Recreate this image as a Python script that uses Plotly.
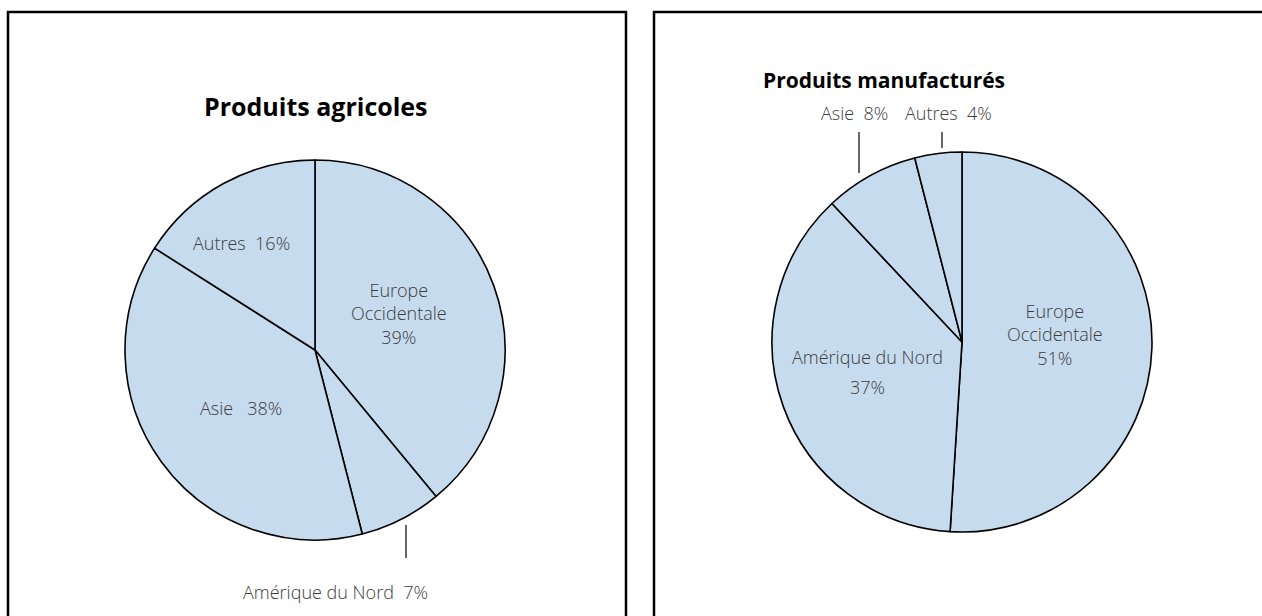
import plotly.graph_objects as go

W, H = 1262, 616

# Data
regions_agri = ["Europe Occidentale", "Amérique du Nord", "Asie", "Autres"]
values_agri = [39, 7, 38, 16]
regions_manu = ["Europe Occidentale", "Amérique du Nord", "Asie", "Autres"]
values_manu = [51, 37, 8, 4]
titles = ["Produits agricoles", "Produits manufacturés"]

FILL = "#c6dbee"
TXT = "#3c3c3c"
LFONT = "Open Sans"


def px(x):
    return x / W


def py(y):
    return 1 - y / H


fig = go.Figure()


def add_pie(labels, values, cx, cy, r):
    fig.add_trace(go.Pie(
        labels=labels, values=values, sort=False, direction="clockwise",
        rotation=0, textinfo="none", hoverinfo="label+percent",
        marker=dict(colors=[FILL] * len(values), line=dict(color="black", width=1.6)),
        domain=dict(x=[px(cx - r), px(cx + r)], y=[py(cy + r), py(cy - r)]),
        showlegend=False,
    ))


add_pie(regions_agri, values_agri, 315, 350, 190)
add_pie(regions_manu, values_manu, 962, 342, 190)

ann = []


def txt(x, y, s, size=18, color=TXT, family=LFONT, weight=300):
    ann.append(dict(x=px(x), y=py(y), xref="paper", yref="paper", text=s,
                    showarrow=False, xanchor="center", yanchor="middle",
                    font=dict(size=size, color=color, family=family, weight=weight)))


# Titles
txt(316, 106, titles[0], size=25, color="black", weight=700)
txt(884, 80, titles[1], size=21, color="black", weight=700)

# Left pie labels
a = dict(zip(regions_agri, values_agri))
txt(241, 243, f"Autres&nbsp;&nbsp;{a['Autres']}%")
txt(399, 313, f"Europe<br>Occidentale<br>{a['Europe Occidentale']}%")
txt(241, 408, f"Asie&nbsp;&nbsp;&nbsp;{a['Asie']}%")
txt(335, 592, f"Amérique du Nord&nbsp;&nbsp;{a['Amérique du Nord']}%")

# Right pie labels
m = dict(zip(regions_manu, values_manu))
txt(855, 113, f"Asie&nbsp;&nbsp;{m['Asie']}%")
txt(948, 113, f"Autres&nbsp;&nbsp;{m['Autres']}%")
txt(1055, 335, f"Europe<br>Occidentale<br>{m['Europe Occidentale']}%")
txt(867, 357, "Amérique du Nord")
txt(867, 387, f"{m['Amérique du Nord']}%")

shapes = []
# panel borders
for x0, x1 in [(8, 626), (654, 1290)]:
    shapes.append(dict(type="rect", xref="paper", yref="paper",
                       x0=px(x0), x1=px(x1), y0=py(12), y1=py(640),
                       line=dict(color="black", width=2.5), fillcolor="rgba(0,0,0,0)"))
# leader lines
for x, y0, y1 in [(406, 525, 558), (859, 132, 173), (942, 132, 148)]:
    shapes.append(dict(type="line", xref="paper", yref="paper",
                       x0=px(x), x1=px(x), y0=py(y0), y1=py(y1),
                       line=dict(color="black", width=1.2)))

fig.update_layout(
    width=W, height=H, margin=dict(l=0, r=0, t=0, b=0),
    paper_bgcolor="white", plot_bgcolor="white",
    annotations=ann, shapes=shapes,
)

fig.write_html("out.html", post_script="document.body.style.margin='0';",
               config={"displayModeBar": False})
